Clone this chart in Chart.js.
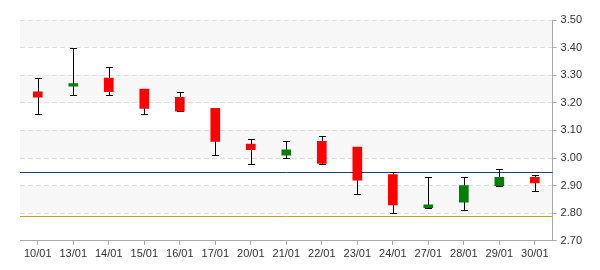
<!DOCTYPE html>
<html>
<head>
<meta charset="utf-8">
<script src="https://cdn.jsdelivr.net/npm/chart.js@4/dist/chart.umd.min.js"></script>
<style>
html,body{margin:0;padding:0;background:#fff;}
#wrap{width:600px;height:270px;position:relative;}
</style>
</head>
<body>
<div id="wrap"><canvas id="c" width="600" height="270"></canvas></div>
<script>
const categories = ['10/01','13/01','14/01','15/01','16/01','17/01','20/01','21/01','22/01','23/01','24/01','27/01','28/01','29/01','30/01'];
const openValues  = [3.24, 3.26, 3.29, 3.25, 3.22, 3.18, 3.05, 3.01, 3.06, 3.04, 2.94, 2.82, 2.84, 2.90, 2.93];
const closeValues = [3.22, 3.27, 3.24, 3.18, 3.17, 3.06, 3.03, 3.03, 2.98, 2.92, 2.83, 2.83, 2.90, 2.93, 2.91];
const highValues  = [3.29, 3.40, 3.33, 3.25, 3.24, 3.18, 3.07, 3.06, 3.08, 3.04, 2.95, 2.93, 2.93, 2.96, 2.94];
const lowValues   = [3.16, 3.23, 3.23, 3.16, 3.17, 3.01, 2.98, 3.00, 2.98, 2.87, 2.80, 2.82, 2.81, 2.90, 2.88];
const refLevels = [2.95, 2.79];
const refColors = ['#1b3f7f', '#c8a020'];
const yTicks = [2.70, 2.80, 2.90, 3.00, 3.10, 3.20, 3.30, 3.40, 3.50];

const bodies = categories.map((c, i) => [openValues[i], closeValues[i]]);
const bodyColors = categories.map((c, i) => closeValues[i] >= openValues[i] ? '#008000' : '#ff0000');

const bandPlugin = {
  id: 'bands',
  beforeDraw(chart) {
    const {ctx, chartArea, scales} = chart;
    const y = scales.y;
    ctx.save();
    ctx.fillStyle = '#f7f7f7';
    for (let i = 0; i < yTicks.length - 1; i++) {
      if ((yTicks.length - 2 - i) % 2 === 0) {
        const top = y.getPixelForValue(yTicks[i + 1]);
        const bot = y.getPixelForValue(yTicks[i]);
        ctx.fillRect(chartArea.left, top, chartArea.right - chartArea.left, bot - top);
      }
    }
    ctx.restore();
  },
  beforeDatasetsDraw(chart) {
    const {ctx, chartArea, scales} = chart;
    const x = scales.x, y = scales.y;
    ctx.save();
    refLevels.forEach((v, k) => {
      const py = Math.round(y.getPixelForValue(v)) + 0.5;
      ctx.strokeStyle = refColors[k];
      ctx.lineWidth = 1;
      ctx.beginPath();
      ctx.moveTo(chartArea.left, py);
      ctx.lineTo(chartArea.right, py);
      ctx.stroke();
    });
    ctx.strokeStyle = '#000';
    ctx.lineWidth = 1;
    categories.forEach((c, i) => {
      const px = Math.round(x.getPixelForValue(i)) + 0.5;
      const ph = Math.round(y.getPixelForValue(highValues[i])) + 0.5;
      const pl = Math.round(y.getPixelForValue(lowValues[i])) + 0.5;
      ctx.beginPath();
      ctx.moveTo(px, ph); ctx.lineTo(px, pl);
      ctx.moveTo(px - 3.5, ph); ctx.lineTo(px + 3.5, ph);
      ctx.moveTo(px - 3.5, pl); ctx.lineTo(px + 3.5, pl);
      ctx.stroke();
    });
    ctx.restore();
  }
};

new Chart(document.getElementById('c'), {
  type: 'bar',
  data: {
    labels: categories,
    datasets: [{
      data: bodies,
      backgroundColor: bodyColors,
      borderWidth: 0,
      barThickness: 9,
      grouped: false
    }]
  },
  options: {
    responsive: false,
    animation: false,
    events: [],
    layout: { padding: { left: 20, right: 14, top: 20, bottom: 6 } },
    plugins: { legend: { display: false }, tooltip: { enabled: false } },
    scales: {
      x: {
        offset: true,
        grid: { display: true, drawOnChartArea: false, drawTicks: true, tickLength: 4, offset: false, tickColor: '#aaaaaa' },
        border: { display: true, color: '#aaaaaa', width: 1 },
        ticks: { color: '#333', font: { family: 'Liberation Sans', size: 11 }, padding: 3, maxRotation: 0, autoSkip: false }
      },
      y: {
        position: 'right',
        min: 2.7, max: 3.5,
        afterBuildTicks(axis) { axis.ticks = yTicks.map(v => ({ value: v })); },
        grid: { color: '#dddddd', tickColor: '#aaaaaa', tickLength: 4, drawTicks: true },
        border: { display: true, color: '#aaaaaa', width: 1, dash: [5, 3] },
        ticks: { color: '#333', font: { family: 'Liberation Sans', size: 11 }, padding: 4, callback: v => Number(v).toFixed(2) }
      }
    }
  },
  plugins: [bandPlugin]
});
</script>
</body>
</html>
